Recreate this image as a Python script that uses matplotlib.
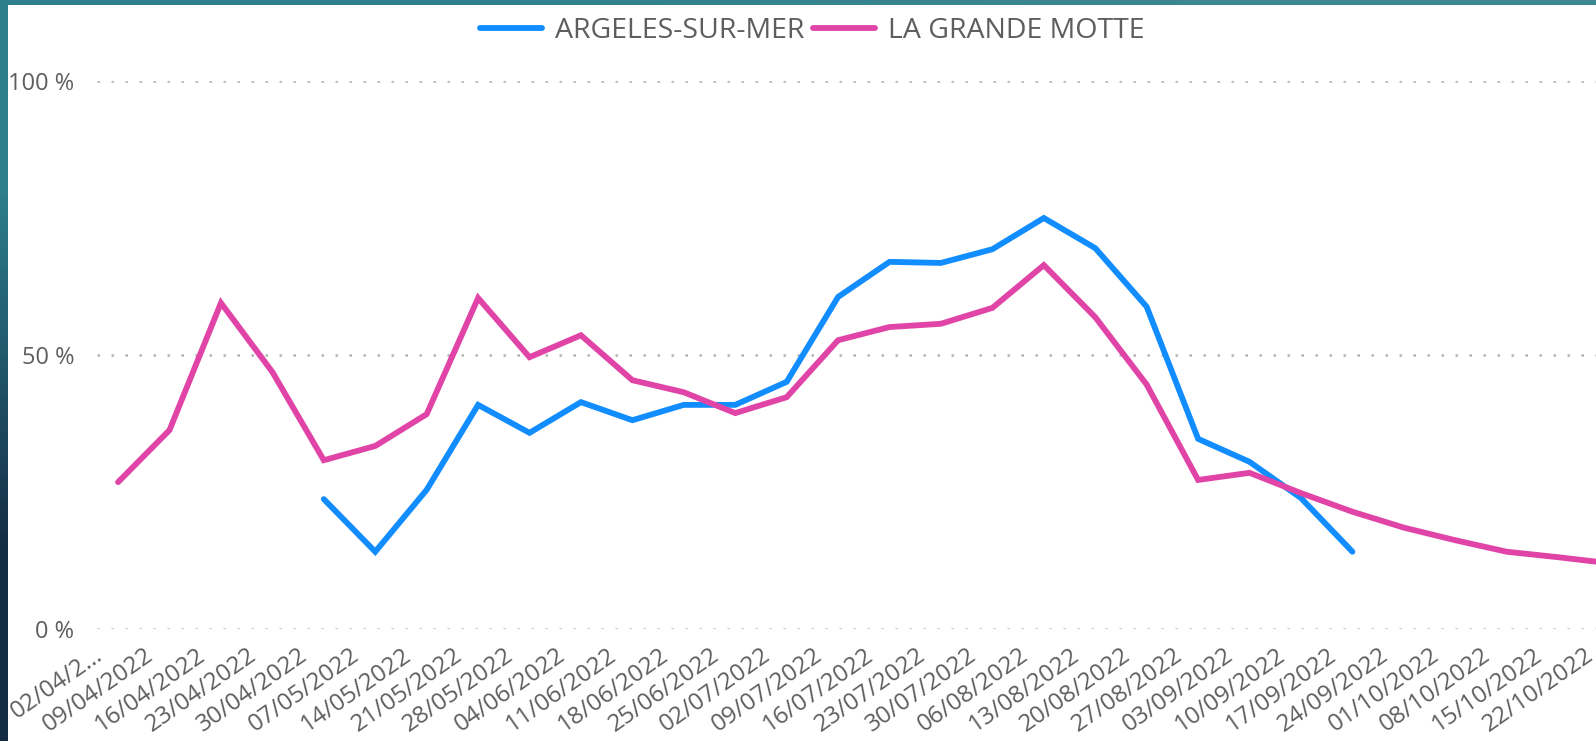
import numpy as np
import matplotlib.pyplot as plt
from matplotlib.patches import Rectangle
from matplotlib.transforms import ScaledTranslation

plt.rcParams['font.family'] = ['Open Sans', 'DejaVu Sans']

## Data (weekly, % values)

dates = ['02/04/2022', '09/04/2022', '16/04/2022', '23/04/2022', '30/04/2022',
         '07/05/2022', '14/05/2022', '21/05/2022', '28/05/2022', '04/06/2022',
         '11/06/2022', '18/06/2022', '25/06/2022', '02/07/2022', '09/07/2022',
         '16/07/2022', '23/07/2022', '30/07/2022', '06/08/2022', '13/08/2022',
         '20/08/2022', '27/08/2022', '03/09/2022', '10/09/2022', '17/09/2022',
         '24/09/2022', '01/10/2022', '08/10/2022', '15/10/2022', '22/10/2022']
tick_labels = ['02/04/2\u2026'] + dates[1:]

nan = np.nan
argeles = [nan, nan, nan, nan, 23.7, 14.1, 25.4, 40.9, 35.8, 41.4,
           38.1, 40.9, 40.9, 45.1, 60.6, 67.0, 66.8, 69.3, 75.0, 69.5,
           58.8, 34.7, 30.5, 23.9, 14.1, nan, nan, nan, nan, nan]
grande_motte = [26.8, 36.3, 59.5, 46.9, 30.8, 33.4, 39.2, 60.4, 49.6, 53.6,
                45.4, 43.2, 39.4, 42.3, 52.7, 55.1, 55.7, 58.6, 66.4, 56.9,
                44.6, 27.2, 28.5, 24.8, 21.4, 18.5, 16.2, 14.1, 13.1, 12.0]
y_ticks = [0, 50, 100]
y_labels = ['0 %', '50 %', '100 %']

W, H = 1596, 741
fig = plt.figure(figsize=(W / 100, H / 100), dpi=100)

## background: teal/navy frame with white panel

bg = fig.add_axes([0, 0, 1, 1])
grad = np.array([[[0.18, 0.50, 0.55], [0.24, 0.53, 0.57]],
                 [[0.08, 0.17, 0.27], [0.20, 0.45, 0.50]]])
bg.imshow(grad, extent=[0, 1, 0, 1], aspect='auto', interpolation='bilinear')
bg.add_patch(Rectangle((8 / W, 0), 1, 1 - 5 / H, facecolor='white',
                       edgecolor='none', transform=bg.transAxes))
bg.set_xlim(0, 1)
bg.set_ylim(0, 1)
bg.axis('off')

## main chart

x0, x1 = -0.41, 29.5
step = 51.43
left = 97 / W
bottom = (H - 629) / H
ax = fig.add_axes([left, bottom, (x1 - x0) * step / W, 548 / H])
ax.patch.set_alpha(0)

x = np.arange(len(dates))
ax.plot(x, argeles, color='#118DFF', lw=4.2, label='ARGELES-SUR-MER',
        solid_joinstyle='miter', solid_capstyle='round', clip_on=False)
ax.plot(x, grande_motte, color='#E044A7', lw=4.2, label='LA GRANDE MOTTE',
        solid_joinstyle='miter', solid_capstyle='round', clip_on=False)

ax.set_xlim(x0, x1)
ax.set_ylim(0, 100)
for s in ax.spines.values():
    s.set_visible(False)

ax.set_yticks(y_ticks)
ax.set_yticklabels(y_labels)
ax.grid(axis='y', color='#b4b4b4', lw=1.8, linestyle=(0, (1, 4.6)))
ax.set_axisbelow(True)

ax.set_xticks(x)
ax.set_xticklabels(tick_labels, rotation=35, ha='right', va='top',
                   rotation_mode='anchor')
ax.tick_params(axis='x', length=0, pad=10, labelsize=17.5, labelcolor='#605E5C')
ax.tick_params(axis='y', length=0, pad=16.5, labelsize=17, labelcolor='#605E5C')
shift = ScaledTranslation(-25 / 100, 0, fig.dpi_scale_trans)
for lab in ax.get_xticklabels():
    lab.set_transform(lab.get_transform() + shift)

leg = fig.legend(loc='center', bbox_to_anchor=(812 / W, 1 - 31 / H), ncol=2,
                 frameon=False, fontsize=20.5, handlelength=2.18,
                 handletextpad=0.45, columnspacing=0.32, borderpad=0)
for t in leg.get_texts():
    t.set_color('#605E5C')

fig.savefig('out.png', dpi=100)
